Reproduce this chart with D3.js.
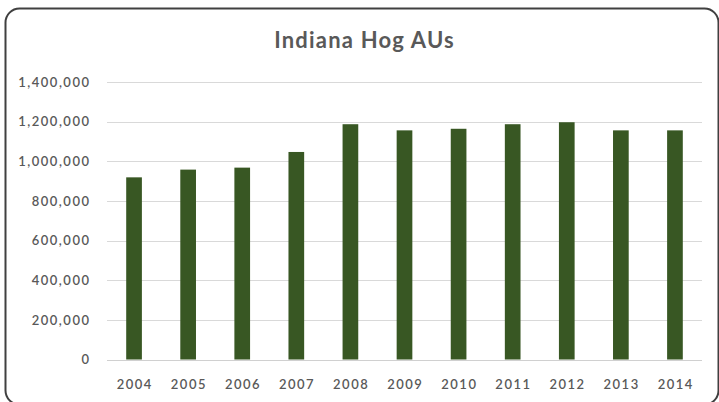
<!DOCTYPE html>
<html>
<head>
<meta charset="utf-8">
<script src="https://cdn.jsdelivr.net/npm/d3@7/dist/d3.min.js"></script>
<style>
  html, body { margin: 0; padding: 0; background: #fff; }
  svg { display: block; }
  text { font-family: Lato, "Open Sans", sans-serif; fill: #595959; }
</style>
</head>
<body>
<svg id="chart" width="719" height="402"></svg>
<script>
// Indiana hog animal units by year
const years = ["2004", "2005", "2006", "2007", "2008", "2009", "2010", "2011", "2012", "2013", "2014"];
const hogAUs = [919000, 958000, 968000, 1047000, 1187000, 1156000, 1164000, 1187000, 1197000, 1156000, 1156000];
const yTicks = [0, 200000, 400000, 600000, 800000, 1000000, 1200000, 1400000];
const title = "Indiana Hog AUs";

const svg = d3.select("#chart");
const W = 719, H = 402;
const margin = { top: 82, right: 17, bottom: 42.5, left: 107 };

// rounded chart frame
svg.append("rect")
  .attr("x", 5.5).attr("y", 8.5)
  .attr("width", 713).attr("height", 396)
  .attr("rx", 14).attr("ry", 14)
  .attr("fill", "#fff")
  .attr("stroke", "#404040")
  .attr("stroke-width", 2);

const x = d3.scaleBand()
  .domain(years)
  .range([margin.left, W - margin.right])
  .paddingInner(0.71)
  .paddingOuter(0.355);

const y = d3.scaleLinear()
  .domain([0, 1400000])
  .range([H - margin.bottom, margin.top]);

// horizontal gridlines
svg.append("g")
  .selectAll("line")
  .data(yTicks)
  .join("line")
  .attr("x1", margin.left).attr("x2", W - margin.right)
  .attr("y1", d => Math.round(y(d)) + 0.5).attr("y2", d => Math.round(y(d)) + 0.5)
  .attr("stroke", d => d === 0 ? "#d0d0d0" : "#d9d9d9")
  .attr("stroke-width", 1);

// y-axis labels
const yAxis = d3.axisLeft(y)
  .tickValues(yTicks)
  .tickFormat(d3.format(","))
  .tickSize(0)
  .tickPadding(16.5);
const gy = svg.append("g")
  .attr("transform", `translate(${margin.left},0)`)
  .call(yAxis);
gy.select(".domain").remove();
gy.selectAll("text")
  .style("font-size", "13px")
  .style("letter-spacing", "1.5px")
  .style("font-weight", "600")
  .attr("fill", "#595959");

// bars
svg.append("g")
  .selectAll("rect")
  .data(years.map((yr, i) => ({ yr, v: hogAUs[i] })))
  .join("rect")
  .attr("x", d => x(d.yr))
  .attr("y", d => y(d.v))
  .attr("width", x.bandwidth())
  .attr("height", d => y(0) - y(d.v))
  .attr("fill", "#385723");

// x-axis labels
const xAxis = d3.axisBottom(x).tickSize(0).tickPadding(20);
const gx = svg.append("g")
  .attr("transform", `translate(0,${y(0)})`)
  .call(xAxis);
gx.select(".domain").remove();
gx.selectAll("text")
  .attr("dx", "0.75px")
  .style("font-size", "13px")
  .style("letter-spacing", "1.5px")
  .style("font-weight", "600")
  .attr("fill", "#595959");

// title
svg.append("text")
  .attr("x", 364.5)
  .attr("y", 48)
  .attr("text-anchor", "middle")
  .style("font-size", "22px")
  .style("font-weight", "700")
  .style("letter-spacing", "1.2px")
  .text(title);
</script>
</body>
</html>
